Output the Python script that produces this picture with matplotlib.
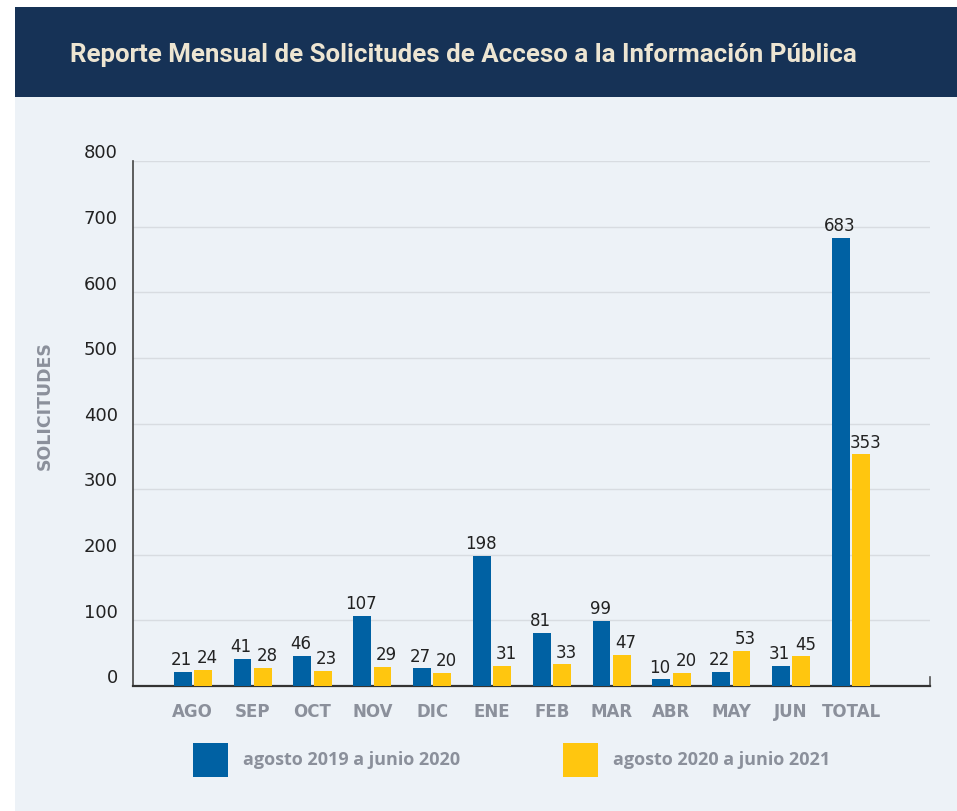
import numpy as np
import matplotlib
matplotlib.use("Agg")
import matplotlib.pyplot as plt
from matplotlib.patches import Rectangle
from matplotlib.transforms import ScaledTranslation

# monthly access-to-information requests, two reporting periods
MESES = ["AGO", "SEP", "OCT", "NOV", "DIC", "ENE", "FEB", "MAR", "ABR", "MAY", "JUN", "TOTAL"]
P2019 = [21, 41, 46, 107, 27, 198, 81, 99, 10, 22, 31, 683]
P2020 = [24, 28, 23, 29, 20, 31, 33, 47, 20, 53, 45, 353]
SERIES = ["agosto 2019 a junio 2020", "agosto 2020 a junio 2021"]
YTICKS = [0, 100, 200, 300, 400, 500, 600, 700, 800]

AZUL = "#0061a3"
AMARILLO = "#ffc60f"
NAVY = "#163256"
PANEL = "#edf2f7"
GRIS = "#8b909b"
NUM = ["DejaVu Sans"]

plt.rcParams["font.family"] = ["Open Sans", "DejaVu Sans"]

W, H = 957, 811
fig = plt.figure(figsize=(W / 100, H / 100), dpi=100, facecolor="white")

# background blocks: header band and light panel
fig.patches.append(Rectangle((15 / W, 0), 1 - 15 / W, 1 - 97 / H, transform=fig.transFigure,
                             facecolor=PANEL, edgecolor="none", zorder=0))
fig.patches.append(Rectangle((15 / W, 1 - 97 / H), 1 - 15 / W, 90 / H, transform=fig.transFigure,
                             facecolor=NAVY, edgecolor="none", zorder=0))
fig.text(70 / W, 1 - 55 / H, "Reporte Mensual de Solicitudes de Acceso a la Información Pública",
         color="#ede5d2", fontsize=18.6, fontweight="bold", va="center", ha="left",
         family=["Roboto", "DejaVu Sans"])

ax = fig.add_axes([133 / W, (H - 686) / H, (930 - 133) / W, (686 - 161) / H])
ax.set_facecolor("none")
ax.set_zorder(5)

x = np.arange(len(MESES))
w = 0.30
off = 0.17
b1 = ax.bar(x - off, P2019, w, color=AZUL, zorder=3)
b2 = ax.bar(x + off, P2020, w, color=AMARILLO, zorder=3)
for bars, vals, dx in ((b1, P2019, -1), (b2, P2020, 3)):
    for r, v in zip(bars, vals):
        ax.annotate(str(v), (r.get_x() + r.get_width() / 2, v), xytext=(dx, 2),
                    textcoords="offset points", ha="center", va="bottom",
                    fontsize=12, color="#222222", zorder=4, family=NUM)

ax.set_xlim(-1.0, 12.32)
ax.set_ylim(0, 800)
ax.set_yticks(YTICKS)
ax.set_yticklabels([str(t) for t in YTICKS], family=NUM)
ax.grid(axis="y", color="#d8dce1", lw=1, zorder=0)
ax.set_axisbelow(True)
ax.tick_params(axis="y", length=0, pad=11, labelsize=13, labelcolor="#222222")
for lbl in ax.get_yticklabels():
    lbl.set_transform(lbl.get_transform() + ScaledTranslation(0, 7 / 72, fig.dpi_scale_trans))
ax.set_xticks(x)
ax.set_xticklabels(MESES, fontsize=12, fontweight="bold", color=GRIS, family=NUM)
ax.tick_params(axis="x", length=0, pad=12)

ax.spines["top"].set_visible(False)
ax.spines["left"].set_color("#444444")
ax.spines["left"].set_linewidth(1.2)
ax.spines["bottom"].set_color("#333333")
ax.spines["bottom"].set_linewidth(1.6)
ax.spines["right"].set_color("#555555")
ax.spines["right"].set_linewidth(1.2)
ax.spines["right"].set_bounds(0, 14)

ax.set_ylabel("SOLICITUDES", fontsize=12.5, fontweight="bold", color=GRIS, family=NUM)
ax.yaxis.set_label_coords(-0.10, 0.535)

# legend drawn as swatches + labels in figure coords
for cx, col, lab in ((193, AZUL, SERIES[0]), (563, AMARILLO, SERIES[1])):
    fig.patches.append(Rectangle((cx / W, 1 - 777 / H), 35 / W, 34 / H, transform=fig.transFigure,
                                 facecolor=col, edgecolor="none", zorder=2))
    fig.text((cx + 50) / W, 1 - 760 / H, lab, fontsize=13, fontweight="bold", color=GRIS,
             va="center", ha="left")

fig.savefig("out.png", dpi=100, facecolor="white")
